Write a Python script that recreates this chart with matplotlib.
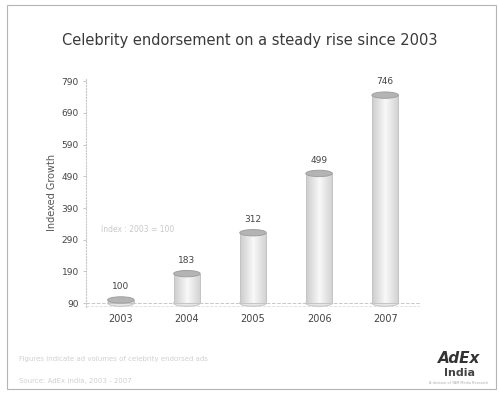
import numpy as np
import matplotlib.pyplot as plt
from matplotlib.patches import Ellipse, Rectangle

# data
years = ['2003', '2004', '2005', '2006', '2007']
index_values = [100, 183, 312, 499, 746]
y_ticks = [90, 190, 290, 390, 490, 590, 690, 790]
base = 90

fig = plt.figure(figsize=(4.99, 3.94), dpi=100)
fig.patch.set_facecolor('white')

# thin frame round the slide
fig.add_artist(Rectangle((0.014, 0.013), 0.98, 0.975, transform=fig.transFigure,
                         fill=False, edgecolor='#b5b5b5', linewidth=0.8))

ax = fig.add_axes([0.172, 0.221, 0.670, 0.581])
x = np.arange(len(years))
width = 0.4
heights = [v - base for v in index_values]

bars = ax.bar(x, heights, width, bottom=base, color='none', edgecolor='#c4c4c4',
              linewidth=0.7, zorder=2.1)

# horizontal gradient inside each bar for the cylinder look
grad = np.concatenate([np.linspace(0.80, 0.97, 40), np.linspace(0.97, 0.82, 40)])
grad = np.tile(grad, (2, 1))
for b in bars:
    x0, y0 = b.get_x(), b.get_y()
    im = ax.imshow(grad, cmap='gray', vmin=0, vmax=1, aspect='auto',
                   extent=[x0, x0 + b.get_width(), y0, y0 + b.get_height()], zorder=2)
    im.set_clip_path(b)

# elliptical caps to make the bars look like cylinders
cap_h = 20
for xi, v in zip(x, index_values):
    ax.add_patch(Ellipse((xi, base), width, cap_h, facecolor='#e6e6e6',
                         edgecolor='#c4c4c4', linewidth=0.7, zorder=1.9))
    ax.add_patch(Ellipse((xi, v), width, cap_h, facecolor='#b4b4b4',
                         edgecolor='#a0a0a0', linewidth=0.7, zorder=3))
    ax.text(xi, v + 28, str(v), ha='center', va='bottom', fontsize=6.5, color='#444444')

ax.axhline(base, color='#c8c8c8', linestyle='--', linewidth=0.7, zorder=1)
ax.axhline(base - 9, color='#dddddd', linestyle='--', linewidth=0.6, zorder=1)

ax.set_xlim(-0.53, 4.53)
ax.set_ylim(78, 800)
ax.set_yticks(y_ticks)
ax.set_yticklabels([str(t) for t in y_ticks], fontsize=6.5, color='#444444')
ax.set_xticks(x)
ax.set_xticklabels(years, fontsize=7, color='#444444')
ax.tick_params(axis='x', length=0, pad=5)
ax.tick_params(axis='y', length=2, width=0.6, color='#bbbbbb', pad=3)

for side in ['top', 'right', 'bottom']:
    ax.spines[side].set_visible(False)
ax.spines['left'].set_color('#c8c8c8')
ax.spines['left'].set_linestyle(':')
ax.spines['left'].set_linewidth(0.8)

ax.set_ylabel('Indexed Growth', fontsize=7, color='#555555', labelpad=3)

ax.text(0.156, 0.34, 'Index : 2003 = 100', transform=ax.transAxes, ha='center',
        va='center', fontsize=5.5, color='#c8c8c8')

fig.text(0.5, 0.898, 'Celebrity endorsement on a steady rise since 2003',
         ha='center', va='center', fontsize=10.5, color='#3a3a3a')

# faint footnotes
fig.text(0.038, 0.083, 'Figures indicate ad volumes of celebrity endorsed ads',
         fontsize=5, color='#d0d0d0')
fig.text(0.038, 0.027, 'Source: AdEx India, 2003 - 2007',
         fontsize=5, color='#d0d0d0')

# logo
fig.text(0.92, 0.078, 'AdEx', ha='center', fontsize=11, fontweight='bold',
         fontstyle='italic', color='#333333')
fig.text(0.92, 0.046, 'India', ha='center', fontsize=8, fontweight='bold',
         color='#444444')
fig.text(0.92, 0.026, 'A division of TAM Media Research', ha='center',
         fontsize=2.5, color='#aaaaaa')

plt.savefig('out.png', dpi=100)
